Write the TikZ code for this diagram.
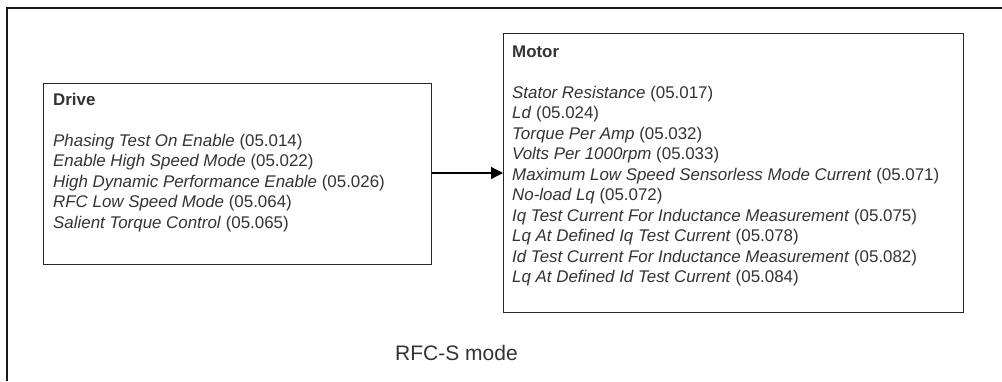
\documentclass[tikz,border=0pt]{standalone}
\usepackage{fontspec}
\setmainfont{Liberation Sans}
\usetikzlibrary{positioning,arrows.meta}

\begin{document}
\begin{tikzpicture}[x=1pt, y=-1pt]
\tikzset{BoxStyle/.style = {shape=rectangle, draw=black!85, line width=1.4pt, inner sep=0pt, anchor=north west}}
\tikzset{TextStyle/.style = {align=left, inner sep=0pt, anchor=north west, text=black!80, font=\fontsize{16.9}{20.5}\selectfont}}
\tikzset{EdgeStyle/.style = {-{Triangle[length=12pt, width=12pt]}, line width=1.2pt}}

	\useasboundingbox (0,0) rectangle (1002,381);
	\draw[line width=1.6pt, black!90] (1002,8) -- (7,8) -- (7,381);

	\node[BoxStyle, minimum width=388pt, minimum height=181pt] (drive) at (43,83) {};
	\node[BoxStyle, minimum width=460pt, minimum height=279pt] (motor) at (503,33) {};

	\node[TextStyle] (drivetxt) at (53,90.6) {\strut\textbf{Drive}\\[20.5pt]
		\textit{Phasing Test On Enable} (05.014)\\
		\textit{Enable High Speed Mode} (05.022)\\
		\textit{High Dynamic Performance Enable} (05.026)\\
		\textit{RFC Low Speed Mode} (05.064)\\
		\textit{Salient Torque Control} (05.065)};

	\node[TextStyle] (motortxt) at (512,42.6) {\strut\textbf{Motor}\\[20.5pt]
		\textit{Stator Resistance} (05.017)\\
		\textit{Ld} (05.024)\\
		\textit{Torque Per Amp} (05.032)\\
		\textit{Volts Per 1000rpm} (05.033)\\
		\textit{Maximum Low Speed Sensorless Mode Current} (05.071)\\
		\textit{No-load Lq} (05.072)\\
		\textit{Iq Test Current For Inductance Measurement} (05.075)\\
		\textit{Lq At Defined Iq Test Current} (05.078)\\
		\textit{Id Test Current For Inductance Measurement} (05.082)\\
		\textit{Lq At Defined Id Test Current} (05.084)};

	\draw[EdgeStyle] (drive.east |- 0,173) -- (motor.west |- 0,173);

	\node[anchor=base west, inner sep=0pt, text=black!80, font=\fontsize{21}{24}\selectfont] (mode) at (395,360) {RFC-S mode};
\end{tikzpicture}
\end{document}
